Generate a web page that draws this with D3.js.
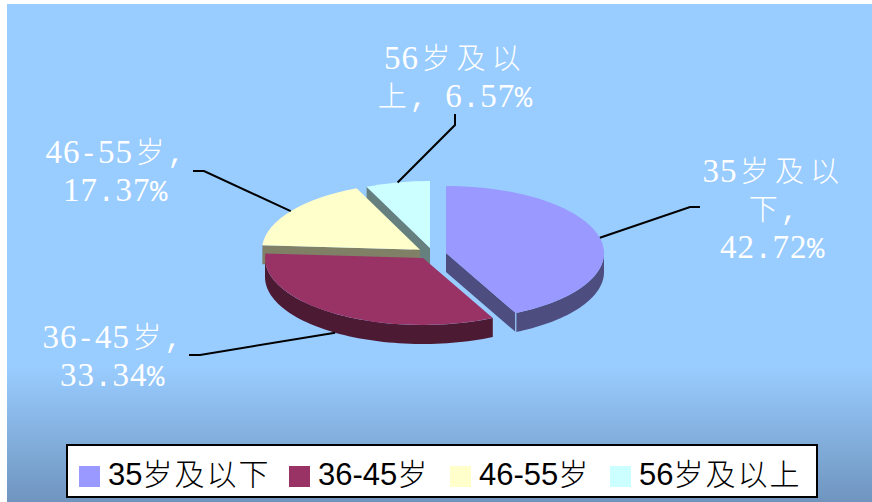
<!DOCTYPE html>
<html>
<head>
<meta charset="utf-8">
<script src="https://cdn.jsdelivr.net/npm/d3@7"></script>
<style>
  body { margin: 0; background: #fff; }
  svg { display: block; }
</style>
</head>
<body>
<script>
// data
const categories = ["35岁及以下", "36-45岁", "46-55岁", "56岁及以上"]
const shares = [42.72, 33.34, 17.37, 6.57]
const topColors = ["#9999ff", "#993366", "#ffffcc", "#ccffff"]
const sideColors = ["#4d4d80", "#4d1a33", "#808066", "#668080"]
const labelLines = [
  ["35岁及以", "下,", "42.72%"],
  ["36-45岁,", "33.34%"],
  ["46-55岁,", "17.37%"],
  ["56岁及以", "上, 6.57%"],
]

// layout
const dimensions = { width: 872, height: 502 }
const pieSize = { rx: 158, ry: 67, depth: 19 }
const sliceCenters = [[446, 253], [423, 258], [420, 249.7], [430, 248]]
const labelSpots = [
  { x: 772, y: 182 },
  { x: 112, y: 348 },
  { x: 115, y: 163 },
  { x: 453.5, y: 69 },
]
// elbow and end of each leader, as [x, y]
const leaders = [
  [[690, 207], [700, 207]],
  [[200, 355], [189, 355]],
  [[204, 171], [193, 171]],
  [[455, 125], [455, 114]],
]
const legendSlots = [79, 289, 450, 610]
const lineHeight = 38
const labelCell = 17.5

const wrapper = d3.select("body")
  .append("svg")
    .attr("width", dimensions.width)
    .attr("height", dimensions.height)

// background panel
const gradient = wrapper.append("defs")
  .append("linearGradient")
    .attr("id", "panel")
    .attr("gradientUnits", "userSpaceOnUse")
    .attr("x1", 0).attr("x2", 0)
    .attr("y1", 4).attr("y2", 502)
gradient.append("stop").attr("offset", 0.73).attr("stop-color", "#99ccff")
gradient.append("stop").attr("offset", 1).attr("stop-color", "#6f95bf")

wrapper.append("rect")
    .attr("x", 7)
    .attr("y", 4)
    .attr("width", dimensions.width - 7)
    .attr("height", dimensions.height - 4)
    .attr("fill", "url(#panel)")

// pie, angles are clockwise from 12 o'clock
const slices = d3.pie().sort(null).value(d => d)(shares)
const rimPoint = (center, angle, radius = 1) => [
  center[0] + pieSize.rx * radius * Math.sin(angle),
  center[1] - pieSize.ry * radius * Math.cos(angle),
]
const line = d3.line()
const arcPoints = (center, from, to) => d3.range(0, 61)
  .map(i => rimPoint(center, from + (to - from) * i / 60))
const lower = p => [p[0], p[1] + pieSize.depth]
const sector = d3.arc().innerRadius(0).outerRadius(pieSize.rx)

const bounds = wrapper.append("g")

// back slices first, the first slice goes on top of the others
const drawOrder = [3, 2, 1, 0]
drawOrder.forEach(i => {
  const slice = slices[i]
  const center = sliceCenters[i]
  const g = bounds.append("g")

  // radial walls facing the viewer
  const walls = []
  if (slice.startAngle > Math.PI) walls.push(slice.startAngle)
  if (slice.endAngle < Math.PI) walls.push(slice.endAngle)
  walls.forEach(angle => {
    const top = [center, rimPoint(center, angle)]
    g.append("path")
      .attr("d", line([...top, ...top.slice().reverse().map(lower)]) + "Z")
      .attr("fill", sideColors[i])
  })

  // outer wall, only the front half of the rim shows
  const from = Math.max(slice.startAngle, Math.PI / 2)
  const to = Math.min(slice.endAngle, Math.PI * 1.5)
  if (from < to) {
    const rim = arcPoints(center, from, to)
    g.append("path")
      .attr("d", line([...rim, ...rim.slice().reverse().map(lower)]) + "Z")
      .attr("fill", sideColors[i])
  }

  // top face
  g.append("path")
    .attr("d", sector(slice))
    .attr("transform", `translate(${center[0]},${center[1]}) scale(1,${pieSize.ry / pieSize.rx})`)
    .attr("fill", topColors[i])

  // thin light seam where the walls of the first slice meet
  if (i == 0) {
    const corner = rimPoint(center, slice.endAngle)
    g.append("path")
      .attr("d", line([corner, lower(corner)]))
      .attr("stroke", "#99ccff")
      .attr("stroke-width", 1.2)
  }
})

// leader lines start on the rim at the middle of the slice
slices.forEach((slice, i) => {
  const mid = (slice.startAngle + slice.endAngle) / 2
  let start = rimPoint(sliceCenters[i], mid)
  if (Math.cos(mid) < 0) start = lower(start)
  wrapper.append("path")
    .attr("d", line([start, ...leaders[i]]))
    .attr("fill", "none")
    .attr("stroke", "#000")
    .attr("stroke-width", 2)
})

const isCjk = s => /[\u4e00-\u9fff]/.test(s)
const runs = s => s.match(/[\u4e00-\u9fff]+|[^\u4e00-\u9fff]+/g)

// data labels sit in fixed cells, a CJK glyph takes two latin cells
labelLines.forEach((lines, i) => {
  const text = wrapper.append("text")
    .attr("text-anchor", "middle")
    .attr("fill", "#fff")
  lines.forEach((str, j) => {
    const chars = Array.from(str)
    const cells = d3.sum(chars, c => isCjk(c) ? 2 : 1)
    let x = labelSpots[i].x - cells * labelCell / 2
    chars.forEach(c => {
      const w = (isCjk(c) ? 2 : 1) * labelCell
      const span = text.append("tspan")
        .attr("x", x + w / 2)
        .attr("y", labelSpots[i].y + j * lineHeight)
        .text(c)
      if (isCjk(c)) {
        span.style("font-family", "'Noto Sans CJK SC'")
          .style("font-size", "29px")
          .style("font-weight", 300)
      } else if (/\d/.test(c)) {
        span.style("font-family", "'Liberation Serif'")
          .style("font-size", "33px")
      } else {
        span.style("font-family", "'Liberation Mono'")
          .style("font-size", "29px")
      }
      x += w
    })
  })
})

// legend
wrapper.append("rect")
    .attr("x", 67)
    .attr("y", 445)
    .attr("width", 750)
    .attr("height", 52)
    .attr("fill", "#fff")
    .attr("stroke", "#000")
    .attr("stroke-width", 2)

categories.forEach((name, i) => {
  wrapper.append("rect")
      .attr("x", legendSlots[i])
      .attr("y", 466)
      .attr("width", 21)
      .attr("height", 21)
      .attr("fill", topColors[i])
  const text = wrapper.append("text")
      .attr("x", legendSlots[i] + 29)
      .attr("y", 485)
      .attr("fill", "#000")
  runs(name).forEach(run => {
    const span = text.append("tspan").text(run)
    if (isCjk(run)) {
      span.style("font-family", "'Noto Sans CJK SC'")
        .style("font-size", "30px")
        .style("font-weight", 300)
        .style("letter-spacing", "2px")
    } else {
      span.style("font-family", "'Liberation Sans'")
        .style("font-size", "31px")
    }
  })
})
</script>
</body>
</html>
